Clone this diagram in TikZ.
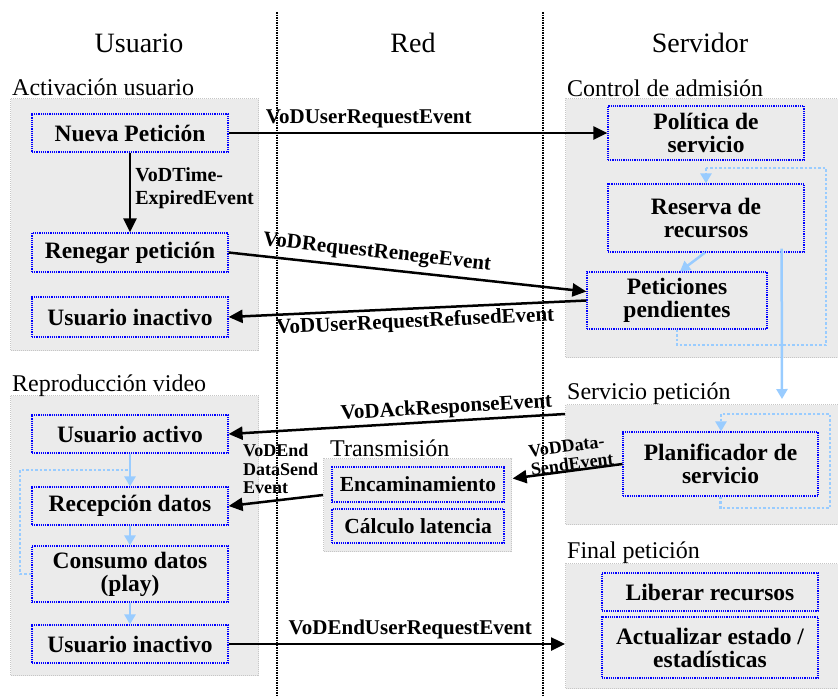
\documentclass[tikz,border=0pt]{standalone}
\usepackage{fontspec}
\setmainfont{Liberation Serif}
\usetikzlibrary{arrows.meta,positioning}
\definecolor{fondo}{HTML}{EBEBEB}
\definecolor{celeste}{HTML}{99CCFF}
\tikzset{
	grupo/.style={draw=gray!45,densely dotted,line width=1pt,fill=fondo,anchor=north west,inner sep=0pt},
	caja/.style={draw=blue,densely dotted,line width=1.2pt,fill=fondo,align=center,inner sep=0pt,font=\bfseries\fontsize{23.5}{23}\selectfont},
	cabecera/.style={anchor=base,inner sep=0pt,font=\fontsize{28}{30}\selectfont},
	titulo/.style={anchor=base west,inner sep=0pt,font=\fontsize{24}{26}\selectfont},
	evento/.style={line width=2.5pt,-{Triangle[length=14pt,width=13pt]}},
	etiqueta/.style={font=\bfseries\fontsize{21}{23}\selectfont,inner sep=1pt},
	etiquetita/.style={font=\bfseries\fontsize{18}{18.5}\selectfont,inner sep=1pt,align=left},
	flujo/.style={celeste,line width=2.5pt,-{Triangle[length=10pt,width=11pt]}},
	bucle/.style={celeste,dotted,line width=2.5pt},
	carril/.style={densely dotted,line width=1.5pt},
}
\begin{document}
\begin{tikzpicture}[x=1pt,y=-1pt]
	\useasboundingbox (0,0) rectangle (838,697);
	% carriles
	\node[cabecera] (hUsuario) at (139,52) {Usuario};
	\node[cabecera] (hRed) at (413,52) {Red};
	\node[cabecera] (hServidor) at (700,52) {Servidor};
	\coordinate (lineaA) at (277,12);
	\coordinate (lineaB) at (543,12);
	\draw[carril] (lineaA) -- (277,697);
	\draw[carril] (lineaB) -- (543,697);
	% grupos
	\node[grupo,minimum width=248pt,minimum height=252pt] (activacion) at (10,98) {};
	\node[titulo] (tActivacion) at (12,95) {Activación usuario};
	\node[grupo,minimum width=273pt,minimum height=259pt] (control) at (565,98) {};
	\node[titulo] (tControl) at (567,96) {Control de admisión};
	\node[grupo,minimum width=248pt,minimum height=280pt] (reproduccion) at (10,395) {};
	\node[titulo] (tReproduccion) at (12,391) {Reproducción video};
	\node[grupo,minimum width=273pt,minimum height=120pt] (servicio) at (565,404) {};
	\node[titulo] (tServicio) at (567,399) {Servicio petición};
	\node[grupo,minimum width=188pt,minimum height=93pt] (transmision) at (323,458) {};
	\node[titulo] (tTransmision) at (330,456) {Transmisión};
	\node[grupo,minimum width=273pt,minimum height=125pt] (final) at (565,563) {};
	\node[titulo] (tFinal) at (567,558) {Final petición};
	% cajas
	\node[caja,minimum width=196pt,minimum height=38pt] (nueva) at (130,133) {Nueva Petición};
	\node[caja,minimum width=196pt,minimum height=39pt] (renegar) at (130,252.5) {Renegar petición};
	\node[caja,minimum width=196pt,minimum height=40pt] (inactivoA) at (130,317) {Usuario inactivo};
	\node[caja,minimum width=196pt,minimum height=54pt] (politica) at (706,133) {Política de\\servicio};
	\node[caja,minimum width=196pt,minimum height=68pt] (reserva) at (706,218) {Reserva de\\recursos};
	\node[caja,minimum width=180pt,minimum height=57pt] (pendientes) at (677,300.5) {Peticiones\\pendientes};
	\node[caja,minimum width=196pt,minimum height=38pt] (activo) at (130,434) {Usuario activo};
	\node[caja,minimum width=196pt,minimum height=38pt] (recepcion) at (130,506) {Recepción datos};
	\node[caja,minimum width=196pt,minimum height=56pt] (consumo) at (130,574) {Consumo datos\\(play)};
	\node[caja,minimum width=196pt,minimum height=38pt] (inactivoB) at (130,644) {Usuario inactivo};
	\node[caja,minimum width=172pt,minimum height=35pt,font=\bfseries\fontsize{21.5}{23}\selectfont] (encamina) at (418,484.5) {Encaminamiento};
	\node[caja,minimum width=172pt,minimum height=34pt,font=\bfseries\fontsize{21.5}{23}\selectfont] (latencia) at (418,526) {Cálculo latencia};
	\node[caja,minimum width=195pt,minimum height=64pt] (planificador) at (720.5,464) {Planificador de\\servicio};
	\node[caja,minimum width=216pt,minimum height=38pt] (liberar) at (710,592) {Liberar recursos};
	\node[caja,minimum width=216pt,minimum height=61pt] (actualizar) at (710,647.5) {Actualizar estado /\\estadísticas};
	% eventos
	\draw[evento] (nueva.east) -- (politica.west)
		node[etiqueta,pos=0.37,above=3pt] {VoDUserRequestEvent};
	\draw[evento] (nueva.south) -- (renegar.north)
		node[etiqueta,pos=0.45,right=3pt,align=left,font=\bfseries\fontsize{20}{23}\selectfont] {VoDTime-\\ExpiredEvent};
	\draw[evento] (renegar.east) -- ([yshift=9pt]pendientes.west)
		node[etiqueta,pos=0.41,sloped,above=4pt] {VoDRequestRenegeEvent};
	\draw[evento] (pendientes.west) -- (inactivoA.east)
		node[etiqueta,pos=0.48,sloped,below=2pt] {VoDUserRequestRefusedEvent};
	\draw[evento] ([yshift=-10pt]servicio.north west) -- (activo.east)
		node[etiqueta,pos=0.35,sloped,above=1pt] {VoDAckResponseEvent};
	\draw[evento] (planificador.west) -- ([xshift=8pt,yshift=6pt]encamina.east)
		node[etiquetita,pos=0.45,sloped,above=-2pt] {VoDData-\\SendEvent};
	\draw[evento] ([yshift=10pt]transmision.west) -- (recepcion.east)
		node[etiquetita,pos=0.45,above=4pt] {VoDEnd\\DataSend\\Event};
	\draw[evento] (inactivoB.east) -- (inactivoB.east -| final.west)
		node[etiqueta,pos=0.54,above=3pt] {VoDEndUserRequestEvent};
	% flujos internos
	\draw[flujo] ([xshift=-1pt]reserva.south) -- ([xshift=3pt]pendientes.north);
	\draw[bucle] (pendientes.south) |- (826,345) |- (706,168);
	\draw[bucle,-{Triangle[length=10pt,width=11pt]}] (706,168) -- (reserva.north);
	\draw[flujo] ([xshift=-23pt,yshift=4pt]reserva.south east) -- ([xshift=-57pt,yshift=5pt]servicio.north east);
	\draw[bucle] (planificador.south) |- (830,508) |- (721,414);
	\draw[bucle,-{Triangle[length=10pt,width=11pt]}] (721,414) -- ([xshift=0.5pt]planificador.north);
	\draw[flujo] (activo.south) -- (recepcion.north);
	\draw[flujo] (recepcion.south) -- (consumo.north);
	\draw[flujo] (consumo.south) -- (inactivoB.north);
	\coordinate (retorno) at (130,470);
	\draw[bucle] (consumo.west) -| (20,470) -- (retorno);
\end{tikzpicture}
\end{document}
